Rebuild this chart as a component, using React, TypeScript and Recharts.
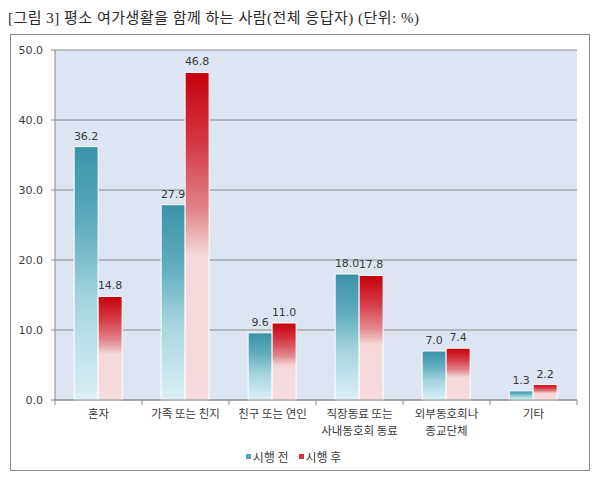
import React from 'react';
import { BarChart, Bar, XAxis, YAxis, CartesianGrid, Legend, LabelList } from 'recharts';

// 범주와 시리즈 값
const categories = ['혼자', '가족 또는 친지', '친구 또는 연인', '직장동료 또는\n사내동호회 동료', '외부동호회나\n종교단체', '기타'];
const beforeValues = [36.2, 27.9, 9.6, 18.0, 7.0, 1.3];
const afterValues = [14.8, 46.8, 11.0, 17.8, 7.4, 2.2];
const yTicks = [0, 10, 20, 30, 40, 50];
const seriesNames = ['시행 전', '시행 후'];

const data = categories.map((name, i) => ({
  name,
  before: beforeValues[i],
  after: afterValues[i],
}));

const numFont = '"DejaVu Sans", "Noto Sans CJK KR", sans-serif';
const krFont = '"Noto Sans CJK KR", sans-serif';
const gridColor = '#8a8a8a';
const textColor = '#3a3a3a';

const TICK_SIZE = 5;
const TICK_MARGIN = 4;

// x축: 줄바꿈 라벨 + 범주 경계에 눈금
const CategoryTick = (props: any) => {
  const { x, y, payload, visibleTicksCount } = props;
  const half = payload.offset || 0;
  const axisY = y - TICK_SIZE - TICK_MARGIN;
  const lines = String(payload.value).split('\n');
  const isLast = payload.index === visibleTicksCount - 1;
  return (
    <g>
      <line x1={x - half} x2={x - half} y1={axisY} y2={axisY + TICK_SIZE} stroke={gridColor} />
      {isLast && <line x1={x + half} x2={x + half} y1={axisY} y2={axisY + TICK_SIZE} stroke={gridColor} />}
      {lines.map((l, i) => (
        <text
          key={i}
          x={x}
          y={y + 9 + i * 17}
          textAnchor="middle"
          fill={textColor}
          fontSize={11.5}
          fontFamily={krFont}
        >
          {l}
        </text>
      ))}
    </g>
  );
};

const legendColors = ['#4fa8bc', '#d8323e'];

const renderLegend = () => (
  <div style={{ display: 'flex', justifyContent: 'center', gap: 10, fontFamily: krFont, fontSize: 12, color: textColor }}>
    {seriesNames.map((n, i) => (
      <span key={n} style={{ display: 'flex', alignItems: 'center' }}>
        <span style={{ display: 'inline-block', width: 5, height: 5, background: legendColors[i], marginRight: 2 }} />
        {n}
      </span>
    ))}
  </div>
);

export default function App() {
  return (
    <div style={{ position: 'absolute', left: 0, top: 0, width: 600, height: 480, background: '#fff' }}>
      <div
        style={{
          position: 'absolute',
          left: 8,
          top: 6,
          fontSize: 15,
          letterSpacing: 0.5,
          color: '#2a2a2a',
          fontFamily: '"Liberation Serif", "Noto Sans CJK KR", serif',
          whiteSpace: 'nowrap',
        }}
      >
        [그림 3] 평소 여가생활을 함께 하는 사람(전체 응답자) (단위: %)
      </div>
      <div
        style={{
          position: 'absolute',
          left: 10,
          top: 34,
          width: 580,
          height: 437,
          border: '1px solid #8c8c8c',
          boxSizing: 'border-box',
        }}
      />
      <div style={{ position: 'absolute', left: 0, top: 0 }}>
        <BarChart
          width={600}
          height={480}
          data={data}
          margin={{ top: 50, right: 23, bottom: 14, left: 10 }}
          barCategoryGap="22%"
          barGap={0}
        >
          <defs>
            <linearGradient id="gBefore" x1="0" y1="0" x2="0" y2="1">
              <stop offset="0%" stopColor="#3a93a8" />
              <stop offset="30%" stopColor="#5eabbd" />
              <stop offset="60%" stopColor="#a4d4df" />
              <stop offset="100%" stopColor="#daf0f4" />
            </linearGradient>
            <linearGradient id="gAfter" x1="0" y1="0" x2="0" y2="1">
              <stop offset="0%" stopColor="#c5000b" />
              <stop offset="22%" stopColor="#d43a45" />
              <stop offset="42%" stopColor="#e2858b" />
              <stop offset="53%" stopColor="#efc8c6" />
              <stop offset="56%" stopColor="#f5d8da" />
              <stop offset="100%" stopColor="#f6dadd" />
            </linearGradient>
          </defs>
          <CartesianGrid vertical={false} stroke={gridColor} fill="#dce5f1" fillOpacity={1} />
          <XAxis
            dataKey="name"
            interval={0}
            height={48}
            tickSize={TICK_SIZE}
            tickMargin={TICK_MARGIN}
            tickLine={false}
            axisLine={{ stroke: gridColor }}
            tick={<CategoryTick />}
          />
          <YAxis
            width={45}
            domain={[0, 50]}
            ticks={yTicks}
            interval={0}
            tickFormatter={(v: number) => v.toFixed(1)}
            tickSize={4}
            tickMargin={8}
            axisLine={{ stroke: gridColor }}
            tickLine={{ stroke: gridColor }}
            tick={{ fill: textColor, fontSize: 11, fontFamily: numFont }}
          />
          <Legend verticalAlign="bottom" height={18} content={renderLegend} />
          <Bar dataKey="before" name={seriesNames[0]} fill="url(#gBefore)" stroke="#ffffff" strokeWidth={1} isAnimationActive={false}>
            <LabelList
              dataKey="before"
              position="top"
              offset={7}
              formatter={(v: number) => v.toFixed(1)}
              style={{ fill: textColor, fontSize: 11, fontFamily: numFont }}
            />
          </Bar>
          <Bar dataKey="after" name={seriesNames[1]} fill="url(#gAfter)" stroke="#ffffff" strokeWidth={1} isAnimationActive={false}>
            <LabelList
              dataKey="after"
              position="top"
              offset={7}
              formatter={(v: number) => v.toFixed(1)}
              style={{ fill: textColor, fontSize: 11, fontFamily: numFont }}
            />
          </Bar>
        </BarChart>
      </div>
    </div>
  );
}
